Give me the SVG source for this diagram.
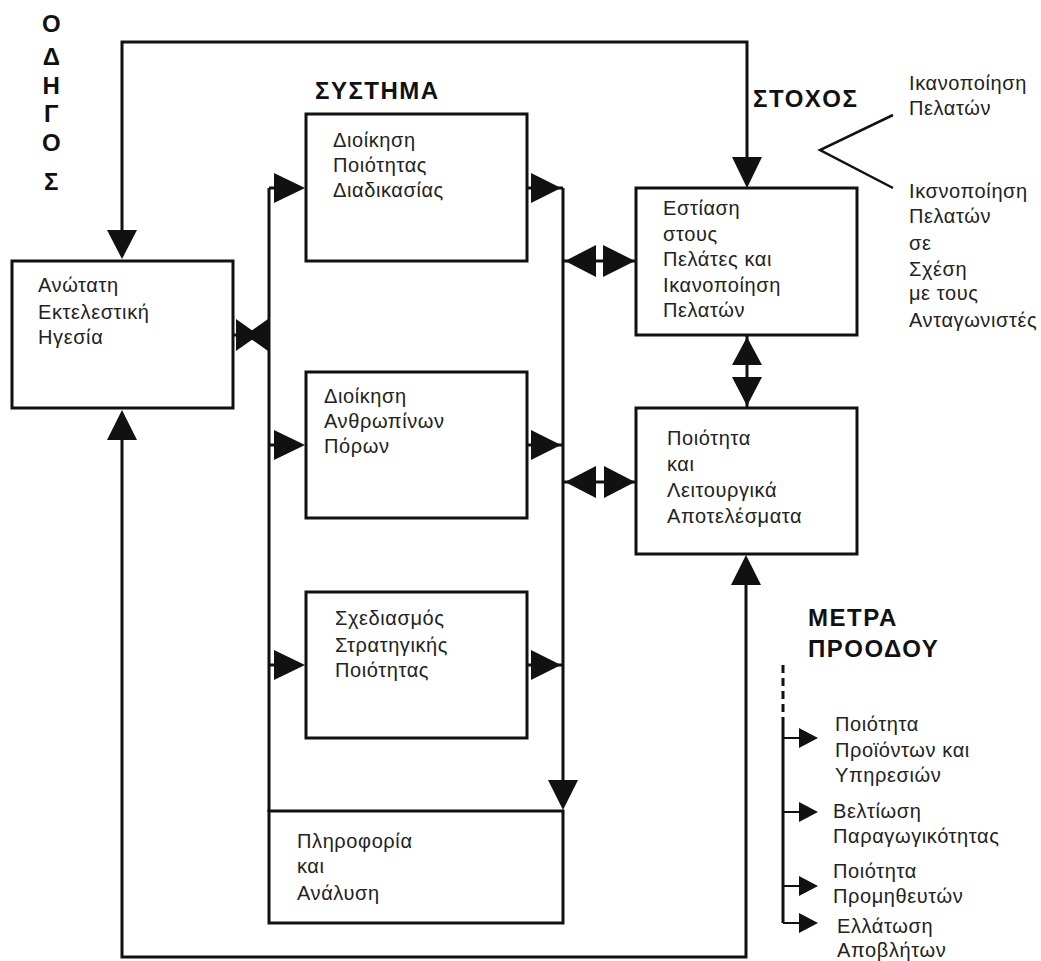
<svg xmlns="http://www.w3.org/2000/svg" width="1041" height="961" viewBox="0 0 1041 961">
<style>
.box{fill:#fff;stroke:#111;stroke-width:3}
.ln{fill:none;stroke:#111;stroke-width:3}
.ah{fill:#111;stroke:none}
.t{font-family:"Liberation Sans",Arial,sans-serif;font-size:20px;fill:#222;letter-spacing:0.6px}
.h{font-family:"Liberation Sans",Arial,sans-serif;font-size:24px;font-weight:bold;fill:#111;letter-spacing:1.5px}
</style>
<rect width="1041" height="961" fill="#fff"/>
<g id="labels">
<text class="h" x="52" text-anchor="middle"><tspan x="52" y="32">Ο</tspan><tspan x="52" y="65">Δ</tspan><tspan x="52" y="94">Η</tspan><tspan x="52" y="122">Γ</tspan><tspan x="52" y="151">Ο</tspan><tspan x="52" y="190">Σ</tspan></text>
<text class="h" x="315" y="99">ΣΥΣΤΗΜΑ</text>
<text class="h" x="753" y="107">ΣΤΟΧΟΣ</text>
<text class="h" x="808" y="626">ΜΕΤΡΑ</text>
<text class="h" x="808" y="657">ΠΡΟΟΔΟΥ</text>
</g>
<g id="connectors">
<polyline class="ln" points="122,230 122,42 747,42 747,157"/>
<polygon class="ah" points="107,230 137,230 122,259"/>
<polygon class="ah" points="732,157 762,157 747,188"/>
<polyline class="ln" points="122,440 122,957 746,957 746,585"/>
<polygon class="ah" points="107,440 137,440 122,410"/>
<polygon class="ah" points="731,585 761,585 746,555"/>
<line class="ln" x1="233" y1="335" x2="269" y2="335"/>
<polygon class="ah" points="236,319 253,331 253,339 236,351"/>
<polygon class="ah" points="268,319 251,331 251,339 268,351"/>
<line class="ln" x1="269" y1="188" x2="269" y2="812"/>
<line class="ln" x1="269" y1="188" x2="275" y2="188"/>
<polygon class="ah" points="274,173 274,203 305,188"/>
<line class="ln" x1="269" y1="445" x2="275" y2="445"/>
<polygon class="ah" points="274,430 274,460 305,445"/>
<line class="ln" x1="269" y1="665" x2="275" y2="665"/>
<polygon class="ah" points="274,650 274,680 305,665"/>
<line class="ln" x1="563" y1="188" x2="563" y2="782"/>
<polygon class="ah" points="548,780 578,780 563,810"/>
<line class="ln" x1="527" y1="188" x2="563" y2="188"/>
<polygon class="ah" points="531,173 531,203 561,188"/>
<line class="ln" x1="527" y1="445" x2="563" y2="445"/>
<polygon class="ah" points="531,430 531,460 561,445"/>
<line class="ln" x1="527" y1="665" x2="563" y2="665"/>
<polygon class="ah" points="531,650 531,680 561,665"/>
<line class="ln" x1="563" y1="261" x2="636" y2="261"/>
<polygon class="ah" points="565,261 596,245 596,277"/>
<polygon class="ah" points="603,245 603,277 635,261"/>
<line class="ln" x1="563" y1="482" x2="636" y2="482"/>
<polygon class="ah" points="565,482 596,466 596,498"/>
<polygon class="ah" points="604,466 604,498 635,482"/>
<line class="ln" x1="747" y1="336" x2="747" y2="407"/>
<polygon class="ah" points="747,337 732,365 762,365"/>
<polygon class="ah" points="732,377 762,377 747,406"/>
<polyline class="ln" points="893,115 820,150 893,188" style="stroke-width:2.5"/>
<line class="ln" x1="783" y1="665" x2="783" y2="722" stroke-dasharray="8,5"/>
<line class="ln" x1="783" y1="722" x2="783" y2="923"/>
<line class="ln" x1="783" y1="738" x2="800" y2="738" style="stroke-width:2"/>
<polygon class="ah" points="799,728 799,748 818,738"/>
<line class="ln" x1="783" y1="812" x2="800" y2="812" style="stroke-width:2"/>
<polygon class="ah" points="799,802 799,822 818,812"/>
<line class="ln" x1="783" y1="886" x2="800" y2="886" style="stroke-width:2"/>
<polygon class="ah" points="799,876 799,896 818,886"/>
<line class="ln" x1="783" y1="923" x2="800" y2="923" style="stroke-width:2"/>
<polygon class="ah" points="799,913 799,933 818,923"/>
</g>
<g id="leader">
<rect class="box" x="12" y="261" width="221" height="147"/>
<text class="t"><tspan x="38" y="292">Ανώτατη</tspan><tspan x="38" y="319">Εκτελεστική</tspan><tspan x="38" y="344">Ηγεσία</tspan></text>
</g>
<g id="process">
<rect class="box" x="306" y="114" width="221" height="147"/>
<text class="t"><tspan x="333" y="147">Διοίκηση</tspan><tspan x="333" y="172">Ποιότητας</tspan><tspan x="333" y="197">Διαδικασίας</tspan></text>
</g>
<g id="hr">
<rect class="box" x="306" y="372" width="221" height="146"/>
<text class="t"><tspan x="324" y="403">Διοίκηση</tspan><tspan x="324" y="428">Ανθρωπίνων</tspan><tspan x="324" y="453">Πόρων</tspan></text>
</g>
<g id="strategy">
<rect class="box" x="306" y="592" width="221" height="146"/>
<text class="t"><tspan x="335" y="625">Σχεδιασμός</tspan><tspan x="335" y="652">Στρατηγικής</tspan><tspan x="335" y="677">Ποιότητας</tspan></text>
</g>
<g id="info">
<rect class="box" x="269" y="811" width="294" height="112"/>
<text class="t"><tspan x="297" y="848">Πληροφορία</tspan><tspan x="297" y="873">και</tspan><tspan x="297" y="900">Ανάλυση</tspan></text>
</g>
<g id="focus">
<rect class="box" x="636" y="188" width="221" height="147"/>
<text class="t"><tspan x="663" y="215">Εστίαση</tspan><tspan x="663" y="241">στους</tspan><tspan x="663" y="266">Πελάτες και</tspan><tspan x="663" y="292">Ικανοποίηση</tspan><tspan x="663" y="317">Πελατών</tspan></text>
</g>
<g id="results">
<rect class="box" x="636" y="408" width="221" height="146"/>
<text class="t"><tspan x="667" y="445">Ποιότητα</tspan><tspan x="667" y="471">και</tspan><tspan x="667" y="497">Λειτουργικά</tspan><tspan x="667" y="523">Αποτελέσματα</tspan></text>
</g>
<g id="goal-texts">
<text class="t"><tspan x="909" y="90">Ικανοποίηση</tspan><tspan x="909" y="115">Πελατών</tspan></text>
<text class="t"><tspan x="909" y="198">Ικσνοποίηση</tspan><tspan x="909" y="223">Πελατών</tspan><tspan x="909" y="250">σε</tspan><tspan x="909" y="276">Σχέση</tspan><tspan x="909" y="300">με τους</tspan><tspan x="909" y="327">Ανταγωνιστές</tspan></text>
</g>
<g id="measures">
<text class="t"><tspan x="835" y="731">Ποιότητα</tspan><tspan x="835" y="757">Προϊόντων και</tspan><tspan x="835" y="782">Υπηρεσιών</tspan></text>
<text class="t"><tspan x="833" y="818">Βελτίωση</tspan><tspan x="833" y="843">Παραγωγικότητας</tspan></text>
<text class="t"><tspan x="833" y="878">Ποιότητα</tspan><tspan x="833" y="903">Προμηθευτών</tspan></text>
<text class="t"><tspan x="837" y="933">Ελλάτωση</tspan><tspan x="837" y="957">Αποβλήτων</tspan></text>
</g>
</svg>
